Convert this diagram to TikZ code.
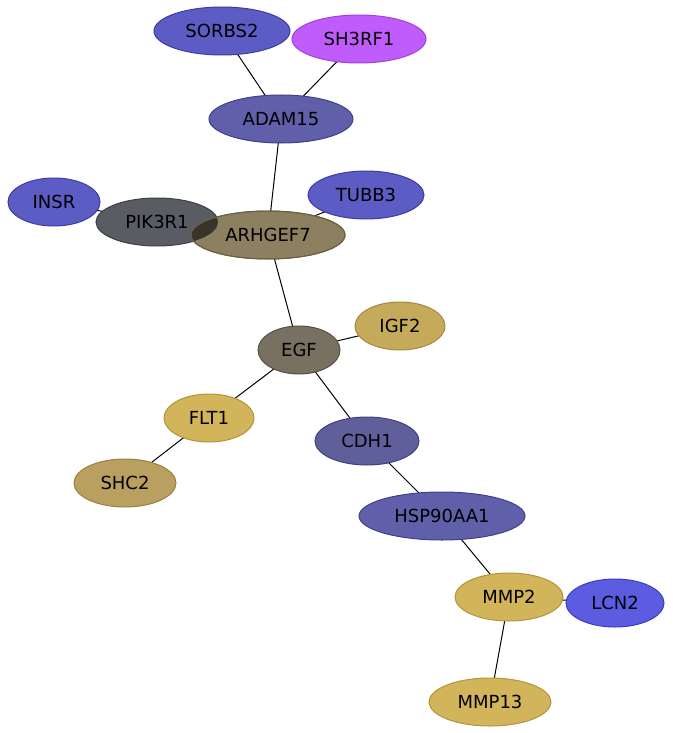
\documentclass[tikz,border=0pt]{standalone}
\usepackage{fontspec}
\setmainfont{DejaVu Sans}
\usetikzlibrary{shapes.geometric}
\pgfdeclarelayer{background}
\pgfsetlayers{background,main}
\begin{document}
\begin{tikzpicture}[x=1pt,y=-1pt,
  nd/.style={ellipse, inner sep=0pt, line width=1pt, minimum height=48pt, font=\fontsize{18}{21}\selectfont},
  ed/.style={line width=1pt, black}]
\definecolor{cblue}{HTML}{5C5CC4}
\definecolor{cbluebd}{HTML}{3C3CA8}
\definecolor{cadam}{HTML}{5F5FAA}
\definecolor{cadambd}{HTML}{3F3F8C}
\definecolor{cpurp}{HTML}{C05CFC}
\definecolor{cpurpbd}{HTML}{A040E0}
\definecolor{cgray}{HTML}{5A5C64}
\definecolor{cgraybd}{HTML}{3C3E44}
\definecolor{colive}{HTML}{8C8060}
\definecolor{colivebd}{HTML}{6C6040}
\definecolor{cdark}{HTML}{38342C}
\definecolor{cegf}{HTML}{787060}
\definecolor{cegfbd}{HTML}{585040}
\definecolor{cgold}{HTML}{D2B45A}
\definecolor{cgoldbd}{HTML}{B2943A}
\definecolor{cigf}{HTML}{C6AA5C}
\definecolor{cigfbd}{HTML}{A68A3C}
\definecolor{cshc}{HTML}{BAA060}
\definecolor{cshcbd}{HTML}{9A8040}
\definecolor{ccdh}{HTML}{5F5F9C}
\definecolor{ccdhbd}{HTML}{3F3F7C}
\definecolor{clcn}{HTML}{5C5CE0}
\definecolor{clcnbd}{HTML}{3C3CC0}
\useasboundingbox (0,0) rectangle (672,733);
\node[nd, fill=cblue, draw=cbluebd, minimum width=136pt] (SORBS2) at (222,31) {SORBS2};
\node[nd, fill=cpurp, draw=cpurpbd, minimum width=134pt] (SH3RF1) at (359,39) {SH3RF1};
\node[nd, fill=cadam, draw=cadambd, minimum width=144pt] (ADAM15) at (281,119) {ADAM15};
\node[nd, fill=cblue, draw=cbluebd, minimum width=92pt] (INSR) at (54,202) {INSR};
\node[nd, fill=cgray, draw=cgraybd, minimum width=122pt] (PIK3R1) at (157,222) {PIK3R1};
\node[nd, fill=colive, draw=colivebd, minimum width=154pt] (ARHGEF7) at (268,235) {ARHGEF7};
\begin{scope}
  \clip (PIK3R1.center) ellipse [x radius=61, y radius=24];
  \fill[cdark] (ARHGEF7.center) ellipse [x radius=77, y radius=24];
\end{scope}
\draw[line width=1pt, colivebd] (ARHGEF7.center) ellipse [x radius=77, y radius=24];
\node[nd, fill=cblue, draw=cbluebd, minimum width=116pt] (TUBB3) at (366,195) {TUBB3};
\node[nd, fill=cigf, draw=cigfbd, minimum width=90pt] (IGF2) at (400,326) {IGF2};
\node[nd, fill=cegf, draw=cegfbd, minimum width=82pt] (EGF) at (299,350) {EGF};
\node[nd, fill=cgold, draw=cgoldbd, minimum width=90pt] (FLT1) at (209,418) {FLT1};
\node[nd, fill=ccdh, draw=ccdhbd, minimum width=104pt] (CDH1) at (367,441) {CDH1};
\node[nd, fill=cshc, draw=cshcbd, minimum width=102pt] (SHC2) at (125,483) {SHC2};
\node[nd, fill=cadam, draw=cadambd, minimum width=166pt] (HSP) at (442,516) {HSP90AA1};
\node[nd, fill=cgold, draw=cgoldbd, minimum width=108pt] (MMP2) at (509,597) {MMP2};
\node[nd, fill=clcn, draw=clcnbd, minimum width=98pt] (LCN2) at (615,603) {LCN2};
\node[nd, fill=cgold, draw=cgoldbd, minimum width=122pt] (MMP13) at (490,702) {MMP13};
\begin{pgfonlayer}{background}
\draw[ed] (SORBS2.center) -- (ADAM15.center);
\draw[ed] (SH3RF1.center) -- (ADAM15.center);
\draw[ed] (ADAM15.center) -- (ARHGEF7.center);
\draw[ed] (INSR.center) -- (PIK3R1.center);
\draw[ed] (PIK3R1.center) -- (ARHGEF7.center);
\draw[ed] (TUBB3.center) -- (ARHGEF7.center);
\draw[ed] (ARHGEF7.center) -- (EGF.center);
\draw[ed] (EGF.center) -- (IGF2.center);
\draw[ed] (EGF.center) -- (FLT1.center);
\draw[ed] (EGF.center) -- (CDH1.center);
\draw[ed] (FLT1.center) -- (SHC2.center);
\draw[ed] (CDH1.center) -- (HSP.center);
\draw[ed] (HSP.center) -- (MMP2.center);
\draw[ed] (MMP2.center) -- (LCN2.center);
\draw[ed] (MMP2.center) -- (MMP13.center);
\end{pgfonlayer}
\end{tikzpicture}
\end{document}
